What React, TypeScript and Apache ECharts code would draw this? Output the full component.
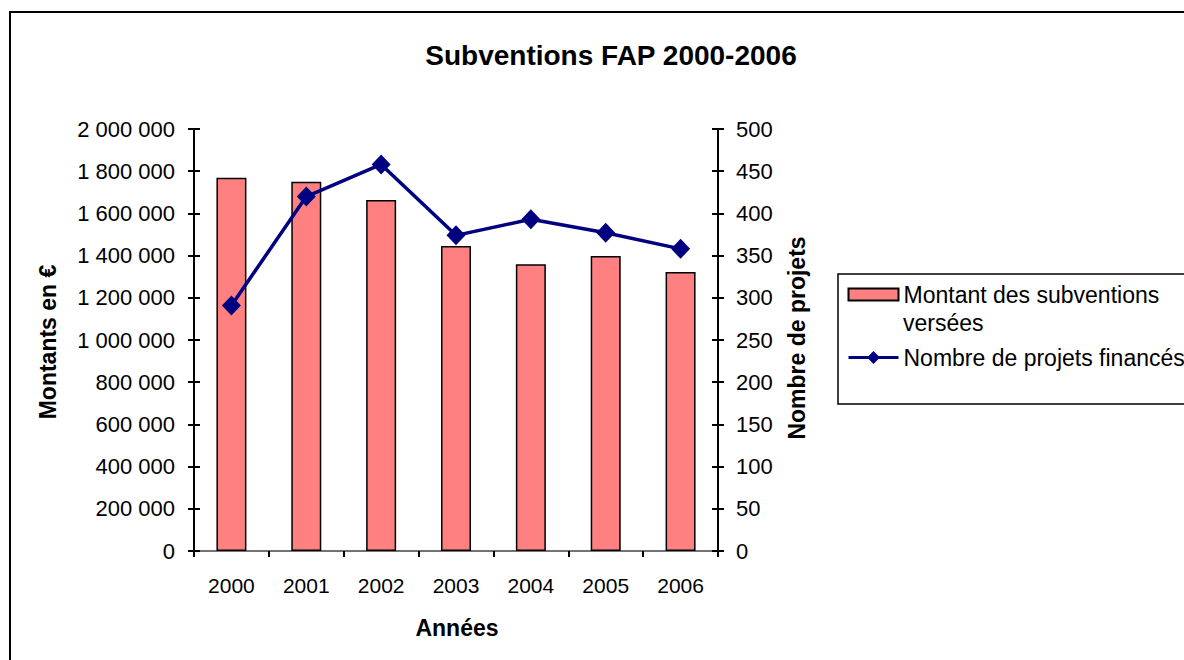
import React, { useEffect, useRef } from "react";
import * as echarts from "echarts";

const years = ["2000", "2001", "2002", "2003", "2004", "2005", "2006"];
const amounts = [1769000, 1750000, 1664000, 1446000, 1359000, 1398000, 1322000];
const projects = [291, 420, 458, 374, 393, 377, 358];
const leftTicks = { min: 0, max: 2000000, interval: 200000 };
const rightTicks = { min: 0, max: 500, interval: 50 };
const barName = "Montant des subventions versées";
const lineName = "Nombre de projets financés";

const FONT = "'Liberation Sans', Arial, sans-serif";

const fmtSpace = (v: number) =>
  String(v).replace(/\B(?=(\d{3})+(?!\d))/g, " ");

export default function App() {
  const ref = useRef<HTMLDivElement>(null);
  useEffect(() => {
    if (!ref.current) return;
    const chart = echarts.init(ref.current, undefined, { renderer: "svg" });
    const tickStyle = { color: "#000", width: 2 };
    chart.setOption({
      animation: false,
      backgroundColor: "#fff",
      textStyle: { fontFamily: FONT },
      title: {
        text: "Subventions FAP 2000-2006",
        left: 606,
        top: 36,
        textAlign: "center",
        textStyle: { fontFamily: FONT, fontSize: 28, fontWeight: "bold", color: "#000" },
      },
      grid: { left: 194, right: 466, top: 129, bottom: 109 },
      legend: {
        orient: "vertical",
        left: 847,
        top: 281,
        padding: 0,
        itemGap: 36,
        itemWidth: 50,
        itemHeight: 16,
        lineStyle: { width: 3 },
        textStyle: { fontFamily: FONT, fontSize: 23, color: "#000", lineHeight: 27 },
        formatter: (name: string) => (name === barName ? "Montant des subventions" : name),
        data: [
          { name: barName, icon: "path://M0,0H50V12H0Z" },
          { name: lineName },
        ],
      },
      graphic: [
        {
          type: "rect",
          shape: { x: 10, y: 12, width: 1200, height: 700 },
          style: { fill: "none", stroke: "#000", lineWidth: 2 },
          silent: true,
        },
        {
          type: "rect",
          shape: { x: 838, y: 274, width: 400, height: 130 },
          style: { fill: "none", stroke: "#000", lineWidth: 1.5 },
          silent: true,
        },
        {
          type: "text",
          x: 903,
          y: 323,
          style: {
            text: "versées",
            font: `23px ${FONT}`,
            fill: "#000",
            align: "left",
            verticalAlign: "middle",
          },
        },
        {
          type: "text",
          x: 48,
          y: 342,
          rotation: Math.PI / 2,
          style: {
            text: "Montants en €",
            font: `bold 23px ${FONT}`,
            fill: "#000",
            align: "center",
            verticalAlign: "middle",
          },
        },
        {
          type: "text",
          x: 797,
          y: 338,
          rotation: Math.PI / 2,
          style: {
            text: "Nombre de projets",
            font: `bold 23px ${FONT}`,
            fill: "#000",
            align: "center",
            verticalAlign: "middle",
          },
        },
        {
          type: "text",
          x: 457,
          y: 628,
          style: {
            text: "Années",
            font: `bold 23px ${FONT}`,
            fill: "#000",
            align: "center",
            verticalAlign: "middle",
          },
        },
      ],
      xAxis: [
        {
          type: "category",
          data: years,
          axisLine: { lineStyle: { color: "#000", width: 2 } },
          axisTick: { show: true, length: 6, lineStyle: tickStyle },
          axisLabel: { color: "#000", fontSize: 21, fontFamily: FONT, margin: 24 },
          splitLine: { show: false },
        },
        {
          type: "category",
          data: years,
          position: "top",
          axisLine: { show: true, lineStyle: { color: "#999", width: 1.5 } },
          axisTick: { show: false },
          axisLabel: { show: false },
        },
      ],
      yAxis: [
        {
          type: "value",
          position: "left",
          ...leftTicks,
          axisLine: { show: true, lineStyle: { color: "#000", width: 2 } },
          axisTick: { show: true, length: 6, lineStyle: tickStyle },
          axisLabel: {
            color: "#000",
            fontSize: 22,
            fontFamily: FONT,
            margin: 19,
            formatter: (v: number) => fmtSpace(v),
          },
          splitLine: { show: false },
        },
        {
          type: "value",
          position: "right",
          ...rightTicks,
          axisLine: { show: true, lineStyle: { color: "#000", width: 2 } },
          axisTick: { show: true, length: 6, lineStyle: tickStyle },
          axisLabel: { color: "#000", fontSize: 22, fontFamily: FONT, margin: 18 },
          splitLine: { show: false },
        },
        {
          type: "value",
          position: "left",
          ...leftTicks,
          axisLine: { show: false },
          axisTick: { show: true, inside: true, length: 6, lineStyle: tickStyle },
          axisLabel: { show: false },
          splitLine: { show: false },
        },
        {
          type: "value",
          position: "right",
          ...rightTicks,
          axisLine: { show: false },
          axisTick: { show: true, inside: true, length: 6, lineStyle: tickStyle },
          axisLabel: { show: false },
          splitLine: { show: false },
        },
      ],
      series: [
        {
          name: barName,
          type: "bar",
          data: amounts,
          yAxisIndex: 0,
          barWidth: 30,
          itemStyle: { color: "#FF8080", borderColor: "#000", borderWidth: 1.5 },
        },
        {
          name: lineName,
          type: "line",
          data: projects,
          yAxisIndex: 1,
          symbol: "diamond",
          symbolSize: [19, 20],
          lineStyle: { color: "#000080", width: 3.5 },
          itemStyle: { color: "#000080" },
        },
      ],
    });
    return () => chart.dispose();
  }, []);
  return (
    <div
      ref={ref}
      style={{ position: "fixed", left: 0, top: 0, width: 1184, height: 660 }}
    />
  );
}
